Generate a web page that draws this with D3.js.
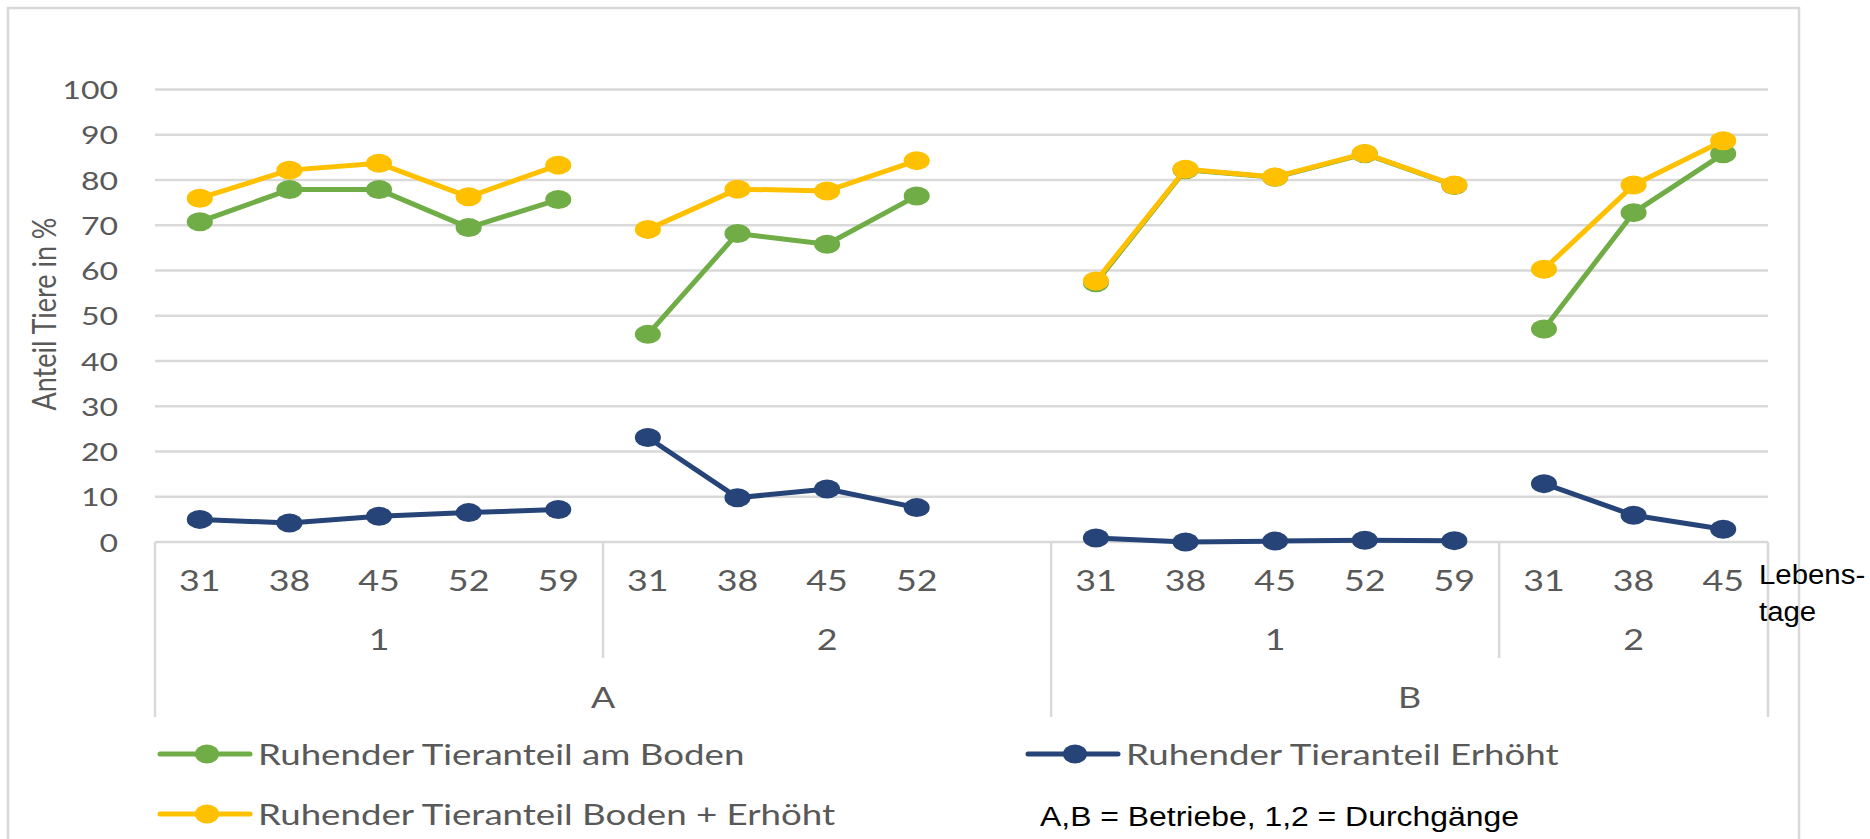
<!DOCTYPE html>
<html>
<head>
<meta charset="utf-8">
<script src="https://cdn.jsdelivr.net/npm/d3@7/dist/d3.min.js"></script>
<style>
  html, body { margin: 0; padding: 0; background: #ffffff; }
  svg { display: block; }
</style>
</head>
<body>
<svg id="chart" width="1870" height="839"></svg>
<script>
// ---------- DATA ----------
const tickLabels = ["31","38","45","52","59", "31","38","45","52","", "31","38","45","52","59", "31","38","45"];
const durchgangLabels = ["1","2","1","2"];
const durchgangSpans  = [5, 5, 5, 3];
const betriebLabels = ["A","B"];
const betriebSpans  = [10, 8];
const yTicks = [0,10,20,30,40,50,60,70,80,90,100];

const seriesNames = ["Ruhender Tieranteil am Boden", "Ruhender Tieranteil Erhöht", "Ruhender Tieranteil Boden + Erhöht"];
const boden   = [70.8,77.9,77.9,69.5,75.7, 45.9,68.2,65.8,76.5,null, 57.3,82.3,80.6,85.8,78.8, 47.1,72.8,85.8];
const erhoeht = [5.0,4.2,5.7,6.5,7.2, 23.1,9.8,11.7,7.6,null, 0.9,0.0,0.2,0.4,0.3, 12.9,5.9,2.8];
const gesamt  = [76.0,82.2,83.7,76.3,83.3, 69.1,78.0,77.6,84.3,null, 57.7,82.4,80.7,85.9,78.9, 60.3,78.9,88.7];

const yTitle = "Anteil Tiere in %";
const xNote = ["Lebens-", "tage"];
const footNote = "A,B = Betriebe, 1,2 = Durchgänge";

// ---------- STYLE ----------
const colors = { boden: "#70AD47", erhoeht: "#264478", gesamt: "#FFC000" };
const gridColor = "#D9D9D9";
const textColor = "#595959";
const calibriLike = "Lato, 'Open Sans', sans-serif";
const arialLike = "'Liberation Sans', Arial, sans-serif";
const S = 1.28; // horizontal stretch of the reference

const svg = d3.select("#chart");
const margin = { left: 155, right: 1768, top: 89.6, bottom: 542 };

const idx = d3.range(tickLabels.length);
const x = d3.scaleBand().domain(idx).range([margin.left, margin.right]).paddingInner(0).paddingOuter(0);
const y = d3.scaleLinear().domain([0, 100]).range([margin.bottom, margin.top]);
const cx = i => x(i) + x.bandwidth() / 2;

function stretchedText(g, tx, ty, txt, opts) {
  const t = g.append("text")
    .attr("transform", `translate(${tx},${ty}) scale(${opts.sx || S},1)` + (opts.rotate ? ` rotate(${opts.rotate})` : ""))
    .attr("text-anchor", opts.anchor || "middle")
    .attr("dominant-baseline", "central")
    .attr("font-family", opts.family || calibriLike)
    .attr("font-size", opts.size)
    .attr("fill", opts.color || textColor)
    .text(txt);
  return t;
}

// outer border
svg.append("rect").attr("x", 8).attr("y", 8).attr("width", 1791).attr("height", 900)
  .attr("fill", "#fff").attr("stroke", gridColor).attr("stroke-width", 2.5);

// gridlines
const grid = svg.append("g");
grid.selectAll("line").data(yTicks).join("line")
  .attr("x1", margin.left).attr("x2", margin.right)
  .attr("y1", d => y(d)).attr("y2", d => y(d))
  .attr("stroke", gridColor).attr("stroke-width", 2.5);

// y tick labels
const yl = svg.append("g");
yTicks.forEach(v => stretchedText(yl, margin.left - 37, y(v), String(v), { anchor: "end", size: 25 }));

// y title
stretchedText(svg, 44, 314, yTitle, { size: 27, rotate: -90, sx: 1.2 });

// x axis hierarchy
const xa = svg.append("g");
const rowTick = 580, rowD = 639, rowB = 697;
const innerBottom = 658, outerBottom = 717;
tickLabels.forEach((t, i) => { if (t) stretchedText(xa, cx(i), rowTick, t, { size: 28 }); });

// durchgang groups
let start = 0;
const dStarts = [];
durchgangLabels.forEach((lab, k) => {
  const s = start, e = start + durchgangSpans[k];
  dStarts.push(s);
  const x0 = x(s), x1 = x(e - 1) + x.bandwidth();
  stretchedText(xa, (x0 + x1) / 2, rowD, lab, { size: 28 });
  start = e;
});
// betrieb groups
start = 0;
const bStarts = [];
betriebLabels.forEach((lab, k) => {
  const s = start, e = start + betriebSpans[k];
  bStarts.push(s);
  const x0 = x(s), x1 = x(e - 1) + x.bandwidth();
  stretchedText(xa, (x0 + x1) / 2, rowB, lab, { size: 28 });
  start = e;
});
// separators
const sepInner = dStarts.filter(s => !bStarts.includes(s)).map(s => x(s));
const sepOuter = bStarts.map(s => x(s)).concat([margin.right]);
sepInner.forEach(px => xa.append("line").attr("x1", px).attr("x2", px).attr("y1", y(0)).attr("y2", innerBottom)
  .attr("stroke", gridColor).attr("stroke-width", 2.5));
sepOuter.forEach(px => xa.append("line").attr("x1", px).attr("x2", px).attr("y1", y(0)).attr("y2", outerBottom)
  .attr("stroke", gridColor).attr("stroke-width", 2.5));

// series
const line = d3.line().defined(d => d.v !== null).x(d => cx(d.i)).y(d => y(d.v));
function drawSeries(values, color) {
  const g = svg.append("g");
  let s = 0;
  durchgangSpans.forEach(span => {
    const pts = d3.range(s, s + span).map(i => ({ i, v: values[i] }));
    g.append("path").datum(pts).attr("d", line).attr("fill", "none")
      .attr("stroke", color).attr("stroke-width", 5).attr("stroke-linejoin", "round");
    s += span;
  });
  g.selectAll("ellipse").data(values.map((v, i) => ({ i, v })).filter(d => d.v !== null)).join("ellipse")
    .attr("cx", d => cx(d.i)).attr("cy", d => y(d.v)).attr("rx", 13).attr("ry", 9.5)
    .attr("fill", color);
}
drawSeries(erhoeht, colors.erhoeht);
drawSeries(boden, colors.boden);
drawSeries(gesamt, colors.gesamt);

// legend
const leg = svg.append("g");
const legendItems = [
  { name: seriesNames[0], color: colors.boden, x: 160, y: 754 },
  { name: seriesNames[1], color: colors.erhoeht, x: 1028, y: 754 },
  { name: seriesNames[2], color: colors.gesamt, x: 160, y: 814 }
];
legendItems.forEach(it => {
  leg.append("line").attr("x1", it.x).attr("x2", it.x + 90).attr("y1", it.y).attr("y2", it.y)
    .attr("stroke", it.color).attr("stroke-width", 5).attr("stroke-linecap", "round");
  leg.append("ellipse").attr("cx", it.x + 47).attr("cy", it.y).attr("rx", 12).attr("ry", 9.5).attr("fill", it.color);
  stretchedText(leg, it.x + 98, it.y, it.name, { anchor: "start", size: 28, sx: 1.31 });
});

// annotations
stretchedText(svg, 1759, 574, xNote[0], { anchor: "start", size: 28, family: arialLike, color: "#000", sx: 1.05 });
stretchedText(svg, 1759, 611, xNote[1], { anchor: "start", size: 28, family: arialLike, color: "#000", sx: 1.05 });
stretchedText(svg, 1040, 816, footNote, { anchor: "start", size: 28, family: arialLike, color: "#000", sx: 1.14 });
</script>
</body>
</html>
